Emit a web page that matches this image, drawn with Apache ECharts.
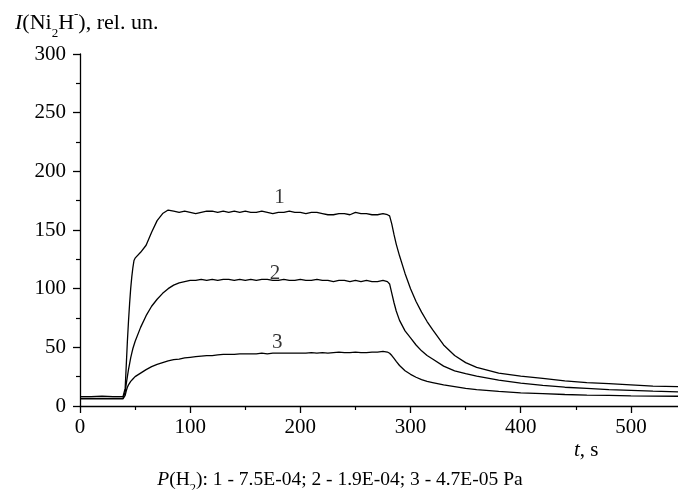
<!DOCTYPE html>
<html>
<head>
<meta charset="utf-8">
<script src="https://cdn.jsdelivr.net/npm/echarts@6/dist/echarts.min.js"></script>
<style>html,body{margin:0;padding:0;background:#fff;}#c{width:678px;height:490px;}</style>
</head>
<body>
<div id="c"></div>
<script>
var times = [0,10,20,30,39,40,41,42,43,44,45,46,47,48,49,50,55,60,65,70,75,
  80,85,90,95,100,105,110,115,120,125,130,135,140,145,150,155,160,165,170,175,180,185,190,195,200,205,210,215,220,225,230,235,240,245,250,255,260,265,270,275,
  279,281,283,285,287,290,295,300,305,310,315,320,330,340,350,360,380,400,420,440,460,480,500,520,543];

var curve1 = [8,8,8.5,8,8,8,15,35,55,72,87,100,110,118,124,126,131,137,148,158,164,
  167,166,165,166,165,164,165,166,166,165,166,165,166,165,166,165,165,166,165,164,165,165,166,165,165,164,165,165,164,163,163,164,164,163,165,164,164,163,163,164,
  163,162,155,146,138,128,113,100,89,80,72,65,52,43,37,33,28,25.5,23.5,21.5,20,19,18,17,16.5];

var curve2 = [6.5,6.5,6.5,6.5,6.5,6.5,12,19,25,31,36,41,45,49,52,55,67,77,85,91,96,
  100,103,105,106,107,107,108,107,108,107,108,108,107,108,107,108,107,108,108,107,107,108,107,107,108,107,107,108,107,107,106,107,107,106,107,106,107,106,106,107,
  106,104,96,88,81,73,64,58,52,47,43,40,34,30,27.5,25.5,22,19.5,17.5,16,15,14,13.3,12.6,12];

var curve3 = [6,6,6,6,6,6,9,13,16,18,19.5,21,22,23,24,25,28,31,33.5,35.5,37,
  38.5,39.5,40,41,41.5,42,42.5,43,43,43.5,44,44,44,44.5,44.5,44.5,44.5,45,44.5,45,45,45,45,45,45,45,45.5,45,45.5,45,45.5,46,45.5,45.5,46,45.5,45.5,46,46,46.5,
  46,45,43,40.5,38,34.5,30,27,24.5,22.5,21,20,18,16.5,15,14,12.5,11.2,10.5,9.8,9.3,9,8.7,8.5,8.3];

var curveNames = ['1','2','3'];
var labelT = [181, 177, 179];
var labelV = [178, 113, 54];

var yTicks = [0,50,100,150,200,250,300];
var xTicks = [0,100,200,300,400,500];

function pairs(vals){ return times.map(function(t,i){ return [t, vals[i]]; }); }

var FONT = '"Liberation Serif","Times New Roman",serif';
var chart = echarts.init(document.getElementById('c'), null, {renderer:'canvas'});

var lineStyle = {color:'#000', width:1.3};
var series = [curve1, curve2, curve3].map(function(v, k){
  return {type:'line', name:curveNames[k], data:pairs(v), showSymbol:false, symbol:'none',
          lineStyle:lineStyle, itemStyle:{color:'#000'}, silent:true, animation:false};
});
series.push({
  type:'scatter', symbolSize:0, silent:true, animation:false,
  data: labelT.map(function(t,i){ return {value:[t, labelV[i]], name:curveNames[i]}; }),
  label:{show:true, position:'inside', formatter:function(p){return p.name;},
         color:'#000', fontFamily:FONT, fontSize:21}
});

chart.setOption({
  backgroundColor:'#fff',
  animation:false,
  grid:{left:80, width:606, top:54, bottom:84, containLabel:false, outerBoundsMode:'none'},
  xAxis:{type:'value', min:0, max:550, interval:100,
    axisLine:{show:true, lineStyle:{color:'#000', width:1.3}},
    axisTick:{show:true, inside:false, length:7, lineStyle:{color:'#000', width:1.3}},
    minorTick:{show:true, splitNumber:2, length:4, lineStyle:{color:'#000', width:1.2}},
    splitLine:{show:false},
    axisLabel:{color:'#000', fontFamily:FONT, fontSize:21, margin:11,
      formatter:function(v){ return xTicks.indexOf(v)>=0 ? String(v) : ''; }}
  },
  yAxis:{type:'value', min:0, max:300, interval:50,
    axisLine:{show:true, lineStyle:{color:'#000', width:1.3}},
    axisTick:{show:true, inside:false, length:7, lineStyle:{color:'#000', width:1.3}},
    minorTick:{show:true, splitNumber:2, length:4, lineStyle:{color:'#000', width:1.2}},
    splitLine:{show:false},
    axisLabel:{color:'#000', fontFamily:FONT, fontSize:21, margin:14,
      formatter:function(v){ return yTicks.indexOf(v)>=0 ? String(v) : ''; }}
  },
  graphic:[
    {type:'text', left:15, top:8, style:{
      text:'{i|I}{n|(Ni}{sub|2}{n|H}{sup|-}{n|), rel. un.}',
      rich:{
        i:{fontFamily:FONT, fontSize:22, fontStyle:'italic', fill:'#000', verticalAlign:'bottom', lineHeight:26},
        n:{fontFamily:FONT, fontSize:22, fill:'#000', verticalAlign:'bottom', lineHeight:26},
        sub:{fontFamily:FONT, fontSize:13, fill:'#000', verticalAlign:'bottom', lineHeight:20, padding:[0,0,-6,0]},
        sup:{fontFamily:FONT, fontSize:13, fill:'#000', verticalAlign:'top', lineHeight:20}
      }}},
    {type:'text', left:574, top:440, style:{
      text:'{i|t}{n|, s}',
      rich:{
        i:{fontFamily:FONT, fontSize:21, fontStyle:'italic', fill:'#000'},
        n:{fontFamily:FONT, fontSize:21, fill:'#000'}
      }}},
    {type:'text', x:340, y:468, style:{
      textAlign:'center',
      text:'{i|P}{n|(H}{sub|2}{n|): 1 - 7.5E-04; 2 - 1.9E-04; 3 - 4.7E-05 Pa}',
      rich:{
        i:{fontFamily:FONT, fontSize:19.5, fontStyle:'italic', fill:'#000', verticalAlign:'bottom', lineHeight:22},
        n:{fontFamily:FONT, fontSize:19.5, fill:'#000', verticalAlign:'bottom', lineHeight:22},
        sub:{fontFamily:FONT, fontSize:12.5, fill:'#000', verticalAlign:'bottom', lineHeight:17, padding:[0,0,-5,0]}
      }}}
  ],
  series:series
});
</script>
</body>
</html>
